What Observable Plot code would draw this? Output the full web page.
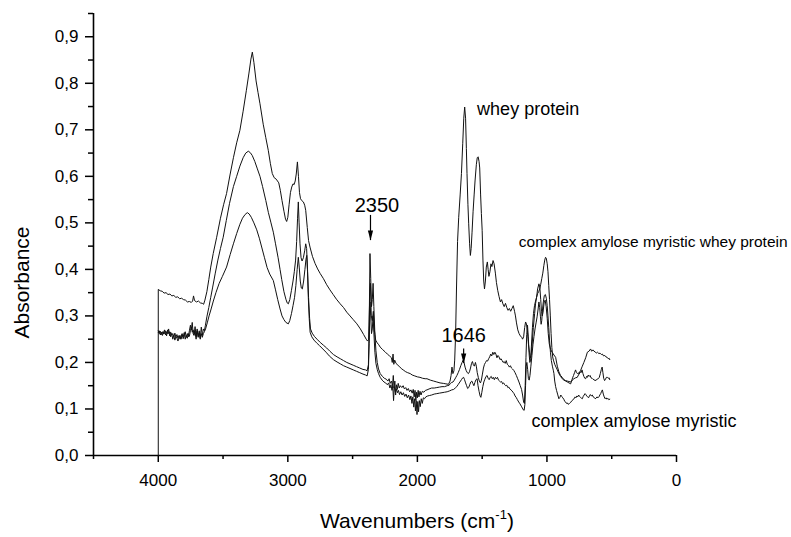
<!DOCTYPE html>
<html>
<head>
<meta charset="utf-8">
<script src="https://cdn.jsdelivr.net/npm/d3@7"></script>
<script src="https://cdn.jsdelivr.net/npm/@observablehq/plot@0.6"></script>
<style>
  html, body { margin: 0; padding: 0; background: #fff; }
</style>
</head>
<body>
<div id="chart"></div>
<script>
// ---- Data (wavenumber cm-1, absorbance) ----
const wheyProtein = [
[4000,0],[4000,0.357],[3985,0.354],[3970,0.353],[3955,0.349],[3940,0.350],[3925,0.346],[3910,0.347],[3895,0.343],[3880,0.344],[3865,0.340],[3850,0.341],[3835,0.337],[3820,0.338],[3805,0.335],[3790,0.334],[3775,0.330],[3760,0.331],[3745,0.329],[3735,0.332],[3728,0.343],[3720,0.333],[3705,0.330],[3690,0.332],[3675,0.328],[3660,0.327],[3650,0.325],[3640,0.334],[3625,0.352],[3610,0.378],[3595,0.405],[3576,0.434],[3550,0.468],[3520,0.510],[3495,0.540],[3473,0.563],[3445,0.605],[3420,0.640],[3395,0.672],[3370,0.699],[3345,0.740],[3320,0.785],[3300,0.822],[3285,0.852],[3274,0.867],[3262,0.845],[3245,0.805],[3230,0.780],[3215,0.756],[3190,0.712],[3170,0.683],[3151,0.656],[3135,0.628],[3120,0.606],[3105,0.597],[3090,0.594],[3080,0.590],[3070,0.586],[3058,0.570],[3045,0.548],[3030,0.525],[3018,0.508],[3009,0.503],[3000,0.512],[2990,0.540],[2980,0.565],[2970,0.577],[2960,0.584],[2952,0.582],[2943,0.590],[2935,0.605],[2926,0.631],[2918,0.600],[2910,0.565],[2902,0.552],[2893,0.548],[2880,0.545],[2870,0.538],[2862,0.527],[2850,0.490],[2840,0.462],[2829,0.448],[2810,0.428],[2790,0.413],[2770,0.401],[2750,0.391],[2725,0.380],[2700,0.367],[2675,0.356],[2650,0.346],[2625,0.336],[2596,0.326],[2570,0.318],[2545,0.308],[2520,0.300],[2495,0.292],[2467,0.283],[2440,0.272],[2415,0.260],[2395,0.250],[2385,0.246],[2376,0.250],[2368,0.340],[2362,0.370],[2356,0.300],[2348,0.290],[2340,0.310],[2332,0.270],[2322,0.248],[2310,0.242],[2298,0.238],[2287,0.233],[2270,0.228],[2250,0.223],[2232,0.218],[2215,0.214],[2200,0.210],[2194,0.200],[2188,0.218],[2182,0.196],[2175,0.205],[2165,0.198],[2150,0.194],[2135,0.190],[2120,0.186],[2105,0.183],[2090,0.180],[2075,0.178],[2055,0.176],[2040,0.173],[2020,0.171],[2000,0.169],[1980,0.168],[1960,0.166],[1940,0.165],[1926,0.165],[1900,0.162],[1875,0.160],[1850,0.158],[1825,0.156],[1800,0.155],[1780,0.154],[1760,0.153],[1748,0.160],[1740,0.172],[1733,0.190],[1726,0.176],[1718,0.182],[1712,0.205],[1705,0.260],[1698,0.360],[1690,0.460],[1681,0.512],[1670,0.560],[1660,0.606],[1650,0.670],[1642,0.725],[1635,0.749],[1628,0.725],[1622,0.660],[1617,0.606],[1610,0.540],[1604,0.498],[1597,0.455],[1591,0.430],[1585,0.445],[1578,0.480],[1570,0.525],[1562,0.560],[1555,0.590],[1545,0.625],[1538,0.640],[1531,0.642],[1524,0.632],[1519,0.618],[1512,0.560],[1506,0.520],[1500,0.484],[1494,0.420],[1488,0.375],[1482,0.358],[1475,0.375],[1468,0.405],[1460,0.416],[1454,0.400],[1448,0.385],[1440,0.395],[1432,0.412],[1425,0.406],[1416,0.419],[1408,0.412],[1398,0.392],[1390,0.372],[1380,0.355],[1370,0.342],[1359,0.330],[1350,0.335],[1340,0.326],[1330,0.320],[1320,0.327],[1310,0.318],[1300,0.312],[1290,0.316],[1280,0.310],[1270,0.316],[1260,0.322],[1250,0.310],[1243,0.300],[1235,0.285],[1225,0.270],[1215,0.262],[1205,0.257],[1195,0.254],[1188,0.250],[1180,0.255],[1172,0.275],[1165,0.287],[1158,0.283],[1150,0.265],[1143,0.240],[1135,0.222],[1128,0.210],[1122,0.215],[1114,0.240],[1105,0.275],[1095,0.305],[1088,0.326],[1080,0.340],[1072,0.358],[1062,0.369],[1055,0.362],[1048,0.335],[1042,0.310],[1036,0.300],[1030,0.308],[1022,0.328],[1014,0.334],[1006,0.320],[998,0.295],[990,0.262],[982,0.240],[972,0.228],[960,0.222],[946,0.216],[933,0.211],[920,0.192],[908,0.180],[895,0.172],[882,0.168],[869,0.163],[856,0.161],[843,0.160],[830,0.159],[817,0.158],[804,0.162],[792,0.165],[779,0.167],[766,0.168],[753,0.175],[740,0.183],[727,0.192],[715,0.200],[701,0.210],[688,0.222],[676,0.224],[663,0.229],[655,0.224],[645,0.227],[637,0.224],[628,0.223],[619,0.220],[610,0.222],[599,0.219],[590,0.220],[580,0.217],[572,0.218],[563,0.214],[553,0.215],[545,0.212],[535,0.211],[527,0.208],[520,0.209],[515,0.206]
];

const complexAmyloseMyristicWheyProtein = [
[4000,0.268],[3992,0.262],[3984,0.267],[3976,0.260],[3968,0.266],[3960,0.261],[3952,0.270],[3944,0.259],[3936,0.266],[3928,0.262],[3920,0.272],[3912,0.257],[3904,0.265],[3896,0.259],[3888,0.262],[3880,0.255],[3872,0.263],[3864,0.254],[3856,0.260],[3848,0.252],[3840,0.258],[3832,0.250],[3824,0.256],[3816,0.262],[3808,0.251],[3800,0.258],[3792,0.266],[3784,0.254],[3776,0.262],[3768,0.255],[3760,0.268],[3752,0.280],[3745,0.270],[3738,0.286],[3731,0.262],[3724,0.258],[3716,0.277],[3708,0.256],[3700,0.272],[3692,0.254],[3684,0.268],[3676,0.252],[3668,0.276],[3660,0.258],[3652,0.272],[3644,0.268],[3636,0.280],[3625,0.298],[3610,0.318],[3595,0.340],[3580,0.362],[3560,0.392],[3540,0.420],[3520,0.445],[3499,0.469],[3475,0.505],[3450,0.542],[3420,0.578],[3395,0.600],[3370,0.622],[3345,0.640],[3325,0.650],[3305,0.654],[3290,0.651],[3275,0.645],[3255,0.632],[3235,0.616],[3215,0.600],[3195,0.578],[3170,0.548],[3150,0.522],[3130,0.500],[3112,0.480],[3095,0.455],[3075,0.425],[3060,0.400],[3047,0.378],[3030,0.352],[3015,0.336],[3005,0.328],[2996,0.326],[2985,0.335],[2972,0.355],[2960,0.375],[2950,0.395],[2940,0.420],[2932,0.460],[2925,0.510],[2919,0.545],[2913,0.500],[2906,0.455],[2898,0.425],[2890,0.418],[2880,0.425],[2870,0.440],[2862,0.455],[2855,0.445],[2848,0.400],[2840,0.340],[2832,0.295],[2825,0.272],[2812,0.263],[2795,0.256],[2775,0.250],[2750,0.243],[2725,0.237],[2700,0.231],[2675,0.224],[2648,0.217],[2620,0.212],[2595,0.208],[2570,0.204],[2545,0.200],[2520,0.197],[2495,0.194],[2470,0.191],[2445,0.188],[2420,0.185],[2400,0.184],[2388,0.182],[2378,0.195],[2372,0.280],[2366,0.434],[2360,0.380],[2354,0.320],[2348,0.335],[2342,0.370],[2336,0.320],[2328,0.260],[2320,0.225],[2310,0.200],[2300,0.186],[2287,0.176],[2270,0.170],[2255,0.166],[2240,0.164],[2228,0.160],[2218,0.165],[2210,0.155],[2200,0.160],[2192,0.150],[2186,0.172],[2180,0.145],[2174,0.160],[2168,0.130],[2162,0.152],[2155,0.142],[2148,0.155],[2140,0.145],[2132,0.150],[2120,0.146],[2110,0.150],[2100,0.143],[2090,0.146],[2080,0.140],[2070,0.144],[2060,0.137],[2050,0.141],[2040,0.134],[2032,0.142],[2025,0.126],[2018,0.140],[2012,0.118],[2006,0.136],[2000,0.124],[1994,0.140],[1988,0.126],[1980,0.138],[1972,0.130],[1962,0.138],[1950,0.136],[1938,0.140],[1926,0.141],[1910,0.143],[1890,0.145],[1870,0.145],[1850,0.146],[1830,0.147],[1810,0.148],[1790,0.148],[1770,0.150],[1755,0.151],[1745,0.155],[1735,0.157],[1725,0.158],[1715,0.162],[1705,0.167],[1695,0.172],[1685,0.178],[1675,0.185],[1665,0.193],[1655,0.200],[1647,0.205],[1640,0.200],[1632,0.190],[1624,0.183],[1615,0.178],[1606,0.176],[1598,0.180],[1590,0.188],[1582,0.198],[1575,0.202],[1568,0.195],[1560,0.192],[1552,0.200],[1545,0.192],[1538,0.178],[1530,0.168],[1522,0.160],[1513,0.156],[1506,0.162],[1498,0.175],[1490,0.188],[1482,0.196],[1474,0.200],[1466,0.204],[1458,0.203],[1450,0.208],[1442,0.212],[1434,0.218],[1426,0.214],[1418,0.222],[1410,0.217],[1402,0.222],[1394,0.218],[1386,0.210],[1378,0.215],[1370,0.212],[1362,0.206],[1354,0.208],[1346,0.204],[1338,0.200],[1330,0.202],[1322,0.198],[1314,0.204],[1306,0.196],[1298,0.194],[1290,0.190],[1282,0.193],[1274,0.188],[1266,0.186],[1256,0.183],[1246,0.178],[1236,0.172],[1226,0.165],[1216,0.158],[1206,0.150],[1196,0.142],[1188,0.130],[1180,0.115],[1174,0.112],[1168,0.150],[1162,0.210],[1156,0.260],[1150,0.280],[1144,0.255],[1138,0.220],[1132,0.200],[1126,0.205],[1120,0.235],[1112,0.275],[1104,0.305],[1096,0.322],[1088,0.332],[1080,0.340],[1072,0.348],[1064,0.352],[1056,0.358],[1048,0.368],[1040,0.380],[1032,0.392],[1024,0.408],[1017,0.420],[1011,0.426],[1005,0.424],[998,0.412],[992,0.395],[986,0.365],[980,0.335],[974,0.300],[968,0.262],[962,0.232],[956,0.212],[950,0.205],[940,0.196],[930,0.190],[920,0.184],[908,0.176],[895,0.170],[882,0.165],[869,0.162],[856,0.160],[843,0.158],[830,0.156],[817,0.154],[810,0.160],[802,0.167],[795,0.172],[787,0.178],[779,0.184],[772,0.178],[765,0.176],[758,0.178],[751,0.175],[744,0.180],[737,0.178],[729,0.184],[722,0.176],[715,0.170],[708,0.166],[701,0.165],[694,0.170],[688,0.168],[681,0.173],[674,0.170],[667,0.172],[660,0.167],[652,0.166],[645,0.164],[637,0.163],[629,0.161],[621,0.162],[612,0.164],[604,0.165],[596,0.168],[588,0.176],[580,0.185],[574,0.190],[568,0.178],[562,0.166],[555,0.161],[548,0.164],[541,0.168],[534,0.168],[527,0.166],[520,0.167],[515,0.163]
];

const complexAmyloseMyristic = [
[4000,0.264],[3992,0.268],[3984,0.259],[3976,0.265],[3968,0.258],[3960,0.266],[3952,0.262],[3944,0.268],[3936,0.257],[3928,0.270],[3920,0.262],[3912,0.266],[3904,0.255],[3896,0.262],[3888,0.250],[3880,0.258],[3872,0.248],[3864,0.255],[3856,0.252],[3848,0.246],[3840,0.254],[3832,0.258],[3824,0.250],[3816,0.260],[3808,0.255],[3800,0.264],[3792,0.250],[3784,0.258],[3776,0.252],[3768,0.262],[3760,0.256],[3752,0.268],[3745,0.276],[3738,0.265],[3731,0.270],[3724,0.260],[3716,0.266],[3708,0.250],[3700,0.268],[3692,0.256],[3684,0.264],[3676,0.250],[3668,0.262],[3660,0.254],[3652,0.262],[3644,0.266],[3635,0.272],[3622,0.285],[3608,0.300],[3592,0.315],[3575,0.332],[3555,0.350],[3530,0.370],[3505,0.385],[3473,0.405],[3445,0.432],[3420,0.455],[3395,0.477],[3370,0.497],[3350,0.510],[3330,0.518],[3313,0.522],[3298,0.519],[3282,0.512],[3262,0.500],[3240,0.485],[3220,0.467],[3200,0.446],[3180,0.425],[3160,0.404],[3140,0.390],[3112,0.376],[3095,0.356],[3078,0.335],[3060,0.315],[3045,0.300],[3030,0.292],[3015,0.286],[2996,0.283],[2985,0.290],[2972,0.305],[2960,0.322],[2948,0.340],[2938,0.365],[2928,0.400],[2919,0.426],[2912,0.405],[2904,0.375],[2896,0.360],[2888,0.358],[2878,0.375],[2868,0.400],[2860,0.422],[2854,0.430],[2848,0.395],[2842,0.340],[2835,0.295],[2828,0.265],[2815,0.255],[2798,0.248],[2778,0.242],[2755,0.236],[2730,0.229],[2705,0.222],[2680,0.214],[2648,0.206],[2620,0.201],[2595,0.197],[2570,0.193],[2545,0.190],[2520,0.187],[2495,0.184],[2470,0.181],[2445,0.178],[2420,0.175],[2400,0.173],[2388,0.171],[2378,0.185],[2372,0.240],[2366,0.330],[2360,0.300],[2354,0.262],[2348,0.272],[2342,0.300],[2336,0.265],[2328,0.222],[2320,0.198],[2310,0.185],[2300,0.176],[2287,0.168],[2272,0.162],[2258,0.158],[2245,0.156],[2232,0.152],[2222,0.156],[2212,0.145],[2204,0.152],[2196,0.140],[2190,0.150],[2184,0.118],[2178,0.148],[2170,0.136],[2162,0.143],[2154,0.135],[2146,0.140],[2138,0.131],[2128,0.137],[2118,0.130],[2108,0.135],[2098,0.127],[2088,0.132],[2078,0.124],[2068,0.130],[2058,0.120],[2050,0.128],[2042,0.112],[2035,0.126],[2028,0.104],[2021,0.122],[2015,0.096],[2009,0.118],[2003,0.088],[1997,0.116],[1991,0.094],[1985,0.118],[1978,0.105],[1970,0.122],[1962,0.112],[1954,0.124],[1945,0.122],[1935,0.126],[1920,0.128],[1905,0.129],[1890,0.130],[1870,0.132],[1850,0.133],[1830,0.134],[1810,0.135],[1790,0.136],[1770,0.137],[1750,0.139],[1735,0.141],[1720,0.142],[1708,0.145],[1696,0.148],[1684,0.153],[1672,0.158],[1660,0.163],[1650,0.167],[1643,0.168],[1636,0.163],[1628,0.156],[1620,0.150],[1612,0.144],[1604,0.146],[1596,0.152],[1588,0.158],[1580,0.160],[1572,0.155],[1564,0.150],[1556,0.157],[1548,0.163],[1539,0.165],[1532,0.150],[1524,0.138],[1516,0.128],[1510,0.125],[1503,0.135],[1495,0.148],[1487,0.158],[1479,0.164],[1470,0.170],[1462,0.172],[1454,0.166],[1446,0.163],[1438,0.168],[1430,0.170],[1422,0.165],[1414,0.168],[1406,0.163],[1398,0.168],[1390,0.165],[1382,0.168],[1374,0.162],[1366,0.160],[1358,0.158],[1350,0.159],[1342,0.154],[1334,0.156],[1326,0.152],[1318,0.150],[1310,0.151],[1302,0.146],[1294,0.147],[1286,0.143],[1278,0.141],[1270,0.139],[1262,0.136],[1254,0.133],[1246,0.128],[1238,0.125],[1228,0.120],[1218,0.115],[1208,0.111],[1198,0.106],[1190,0.102],[1182,0.098],[1176,0.097],[1170,0.110],[1165,0.150],[1160,0.192],[1155,0.200],[1149,0.185],[1143,0.165],[1137,0.162],[1131,0.172],[1124,0.192],[1116,0.215],[1108,0.238],[1100,0.256],[1092,0.272],[1084,0.285],[1076,0.298],[1068,0.315],[1062,0.330],[1056,0.318],[1050,0.298],[1045,0.282],[1040,0.290],[1034,0.315],[1028,0.330],[1020,0.344],[1012,0.346],[1005,0.338],[998,0.322],[992,0.300],[986,0.275],[980,0.248],[973,0.222],[966,0.204],[958,0.192],[950,0.182],[946,0.176],[940,0.160],[933,0.148],[926,0.140],[918,0.132],[908,0.122],[900,0.125],[893,0.130],[886,0.127],[878,0.124],[870,0.121],[862,0.116],[856,0.115],[849,0.112],[843,0.113],[836,0.110],[830,0.111],[823,0.113],[817,0.114],[810,0.117],[804,0.118],[797,0.121],[790,0.122],[783,0.126],[776,0.124],[769,0.128],[762,0.126],[755,0.130],[748,0.127],[741,0.125],[734,0.123],[727,0.122],[720,0.127],[713,0.130],[706,0.133],[700,0.131],[693,0.128],[686,0.126],[679,0.124],[672,0.128],[665,0.131],[658,0.128],[650,0.130],[643,0.126],[636,0.125],[628,0.122],[621,0.123],[614,0.126],[606,0.124],[599,0.126],[592,0.130],[585,0.133],[578,0.138],[572,0.141],[565,0.132],[558,0.126],[551,0.122],[544,0.124],[537,0.121],[530,0.123],[523,0.120],[515,0.121]
];

const xMajorTicks = [4000, 3000, 2000, 1000, 0];
const xMinorTicks = [4500, 3500, 2500, 1500, 500];
const yMajorTicks = [0, 0.1, 0.2, 0.3, 0.4, 0.5, 0.6, 0.7, 0.8, 0.9];
const yMinorTicks = [0.05, 0.15, 0.25, 0.35, 0.45, 0.55, 0.65, 0.75, 0.85, 0.95];

const peakLabels = [
  {text: "2350", x: 2312, y: 0.523},
  {text: "1646", x: 1643, y: 0.244}
];
const peakArrows = [
  {x: 2362, from: 0.516, to: 0.462},
  {x: 1643, from: 0.229, to: 0.198}
];
const seriesLabelsLarge = [
  {text: "whey protein", x: 1539, y: 0.731},
  {text: "complex amylose myristic", x: 1119, y: 0.061}
];
const seriesLabelsSmall = [
  {text: "complex amylose myristic whey protein", x: 1217, y: 0.449}
];

// ---- Build table ----
const toRows = (arr, name) => arr.map(([x, y]) => ({x, y, series: name}));
const rows = [
  ...toRows(wheyProtein, "whey protein"),
  ...toRows(complexAmyloseMyristicWheyProtein, "complex amylose myristic whey protein"),
  ...toRows(complexAmyloseMyristic, "complex amylose myristic")
];

const yFmt = d => d.toFixed(1).replace(".", ",");

const chart = Plot.plot({
  width: 791,
  height: 537,
  marginLeft: 93,
  marginRight: 115,
  marginTop: 13,
  marginBottom: 82,
  style: {fontFamily: "'Liberation Sans', Arial, sans-serif", fontSize: "17px", background: "#fff", color: "#000"},
  x: {type: "linear", domain: [4500, 0], label: null},
  y: {type: "linear", domain: [0, 0.95], label: null},
  marks: [
    Plot.ruleX([4500], {stroke: "#000", strokeWidth: 1.6}),
    Plot.ruleY([0], {stroke: "#000", strokeWidth: 1.6}),
    Plot.axisX({ticks: xMajorTicks, tickSize: 7, tickPadding: 11, tickFormat: d => String(d), strokeWidth: 1.5, label: null, fontSize: 17}),
    Plot.axisX({ticks: xMinorTicks, tickSize: 4, tickFormat: () => "", strokeWidth: 1.5, label: null}),
    Plot.axisY({ticks: yMajorTicks, tickSize: 8, tickPadding: 7, tickFormat: yFmt, strokeWidth: 1.5, label: null, fontSize: 17}),
    Plot.axisY({ticks: yMinorTicks, tickSize: 5, tickFormat: () => "", strokeWidth: 1.5, label: null}),
    Plot.line(rows, {x: "x", y: "y", z: "series", stroke: "#111", strokeWidth: 1}),
    Plot.ruleX(peakArrows, {x: "x", y1: "from", y2: "to", stroke: "#000", strokeWidth: 1.2}),
    Plot.vector(peakArrows, {x: "x", y: "to", length: 10, rotate: 180, anchor: "end", shape: "spike", r: 2.6, fill: "#000", stroke: "none"}),
    Plot.text(peakLabels, {x: "x", y: "y", text: "text", fontSize: 20, textAnchor: "middle", lineAnchor: "bottom", fill: "#000"}),
    Plot.text(seriesLabelsLarge, {x: "x", y: "y", text: "text", fontSize: 18, textAnchor: "start", lineAnchor: "bottom", fill: "#000"}),
    Plot.text(seriesLabelsSmall, {x: "x", y: "y", text: "text", fontSize: 15.5, textAnchor: "start", lineAnchor: "bottom", fill: "#000"}),
    Plot.text(["Absorbance"], {frameAnchor: "left", dx: -65, dy: 48, rotate: -90, fontSize: 21, textAnchor: "middle", lineAnchor: "bottom", fill: "#000"})
  ]
});

document.getElementById("chart").appendChild(chart);

// x-axis title with superscript, positioned through the plot's scales
const xs = chart.scale("x"), ys = chart.scale("y");
const title = d3.select(chart).append("text")
  .attr("x", xs.apply(2000))
  .attr("y", ys.apply(0) + 73)
  .attr("text-anchor", "middle")
  .attr("font-size", 21)
  .attr("fill", "#000");
title.append("tspan").text("Wavenumbers (cm");
title.append("tspan").attr("font-size", 13).attr("dy", -9).text("-1");
title.append("tspan").attr("dy", 9).text(")");
</script>
</body>
</html>
